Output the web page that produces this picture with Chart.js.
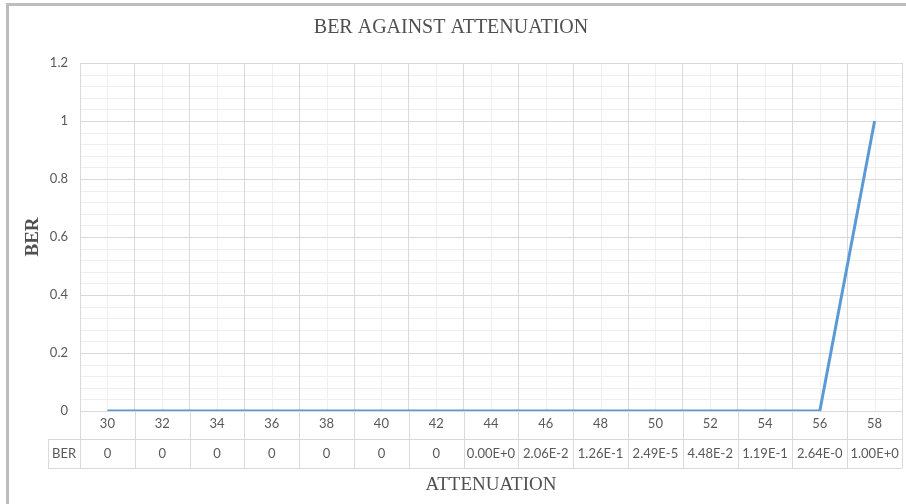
<!DOCTYPE html>
<html>
<head>
<meta charset="utf-8">
<script src="https://cdn.jsdelivr.net/npm/chart.js@4/dist/chart.umd.min.js"></script>
<style>
  html, body { margin: 0; padding: 0; background: #fff; }
  #frame {
    position: absolute; left: 6px; top: 3px; width: 920px; height: 520px;
    border-left: 3px solid #bdbdbd; border-top: 3px solid #bdbdbd;
  }
  #wrap { position: absolute; left: 0; top: 0; width: 906px; height: 504px; }
</style>
</head>
<body>
<div id="frame"></div>
<div id="wrap"><canvas id="ber-chart"></canvas></div>
<script>
const attenuation = ["30", "32", "34", "36", "38", "40", "42", "44", "46", "48", "50", "52", "54", "56", "58"];
const berValues = [0, 0, 0, 0, 0, 0, 0, 0, 0, 0, 0, 0, 0, 0, 1];
const berTable = ["0", "0", "0", "0", "0", "0", "0", "0.00E+0", "2.06E-2", "1.26E-1", "2.49E-5", "4.48E-2", "1.19E-1", "2.64E-0", "1.00E+0"];
const tableRowLabel = "BER";

const majorGrid = "#d9d9d9";
const minorGrid = "#efefef";
const textColor = "#595959";
const tickFont = { family: "Lato, 'Open Sans', sans-serif", size: 13 };
const serifFont = "'Liberation Serif', 'DejaVu Serif', serif";

// minor gridlines (Excel style) + data table under the axis
const excelExtras = {
  id: "excelExtras",
  beforeDraw(chart) {
    const { ctx, chartArea, scales } = chart;
    const x = scales.x, y = scales.y;
    ctx.save();
    ctx.strokeStyle = minorGrid;
    ctx.lineWidth = 1;
    ctx.beginPath();
    // one minor line at each category centre
    for (let i = 0; i < attenuation.length; i++) {
      const px = Math.round(x.getPixelForValue(i)) + 0.5;
      ctx.moveTo(px, chartArea.top);
      ctx.lineTo(px, chartArea.bottom);
    }
    // four minor lines inside each 0.2 step
    for (let k = 0; k <= 30; k++) {
      if (k % 5 === 0) continue;
      const py = Math.round(y.getPixelForValue(k * 0.04)) + 0.5;
      ctx.moveTo(chartArea.left, py);
      ctx.lineTo(chartArea.right, py);
    }
    ctx.stroke();
    ctx.restore();
  },
  afterDraw(chart) {
    const { ctx, chartArea, scales } = chart;
    const x = scales.x;
    const half = (x.getPixelForValue(1) - x.getPixelForValue(0)) / 2;
    const rowTop = chartArea.bottom + 28;
    const rowBottom = rowTop + 29;
    const labelLeft = chartArea.left - 32;

    ctx.save();
    ctx.strokeStyle = majorGrid;
    ctx.lineWidth = 1;
    ctx.beginPath();
    for (let i = 0; i <= attenuation.length; i++) {
      const px = Math.round(x.getPixelForValue(i) - half) + 0.5;
      ctx.moveTo(px, chartArea.bottom);
      ctx.lineTo(px, rowBottom);
    }
    ctx.moveTo(labelLeft + 0.5, rowTop);
    ctx.lineTo(labelLeft + 0.5, rowBottom);
    ctx.moveTo(labelLeft, rowTop + 0.5);
    ctx.lineTo(chartArea.right, rowTop + 0.5);
    ctx.moveTo(labelLeft, rowBottom + 0.5);
    ctx.lineTo(chartArea.right, rowBottom + 0.5);
    ctx.stroke();

    ctx.fillStyle = textColor;
    ctx.font = `${tickFont.size}px ${tickFont.family}`;
    ctx.textAlign = "center";
    ctx.textBaseline = "middle";
    const midY = (rowTop + rowBottom) / 2;
    ctx.fillText(tableRowLabel, (labelLeft + chartArea.left) / 2, midY);
    berTable.forEach((v, i) => {
      ctx.fillText(v, x.getPixelForValue(i), midY);
    });
    ctx.restore();
  },
};

const chart = new Chart(document.getElementById("ber-chart").getContext("2d"), {
  type: "line",
  data: {
    labels: attenuation,
    datasets: [
      {
        label: "BER",
        data: berValues,
        borderColor: "#5b9bd5",
        backgroundColor: "#5b9bd5",
        borderWidth: 3,
        pointRadius: 0,
        tension: 0,
        fill: false,
      },
    ],
  },
  options: {
    animation: false,
    responsive: true,
    maintainAspectRatio: false,
    layout: { padding: { left: 0, right: 4, top: 0, bottom: 0 } },
    plugins: {
      legend: { display: false },
      tooltip: { enabled: false },
      title: {
        display: true,
        text: "BER AGAINST ATTENUATION",
        color: "#505050",
        font: { family: serifFont, size: 20, weight: "normal" },
        padding: { top: 16, bottom: 23 },
      },
    },
    scales: {
      x: {
        offset: true,
        grid: { offset: true, color: majorGrid, drawTicks: false },
        border: { color: majorGrid },
        ticks: { color: textColor, font: tickFont, padding: 5, maxRotation: 0 },
        title: {
          display: true,
          text: "ATTENUATION",
          color: "#505050",
          font: { family: serifFont, size: 19, weight: "normal" },
          padding: { top: 0, bottom: 8 },
        },
        afterFit: (scale) => { scale.height = 93; },
      },
      y: {
        min: 0,
        max: 1.2,
        ticks: {
          stepSize: 0.2,
          color: textColor,
          font: tickFont,
          padding: 12,
          callback: (v) => String(Number(v.toFixed(2))),
        },
        grid: { color: majorGrid, drawTicks: false },
        border: { color: majorGrid },
        title: {
          display: true,
          text: "BER",
          color: "#505050",
          font: { family: serifFont, size: 19, weight: "bold" },
          padding: { top: 22, bottom: 0 },
        },
        afterFit: (scale) => { scale.width = 80; },
      },
    },
  },
  plugins: [excelExtras],
});
</script>
</body>
</html>
